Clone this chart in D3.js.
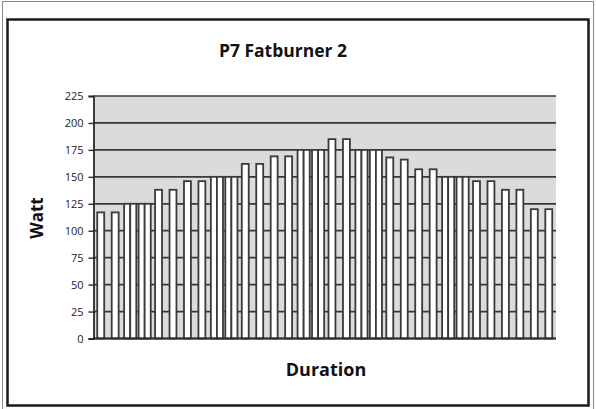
<!DOCTYPE html>
<html>
<head>
<meta charset="utf-8">
<script src="https://cdn.jsdelivr.net/npm/d3@7"></script>
<style>
  html, body { margin: 0; padding: 0; background: #fff; }
  svg { display: block; font-family: "Open Sans", "DejaVu Sans", sans-serif; }
</style>
</head>
<body>
<svg id="chart" width="596" height="409"></svg>
<script>
/* ── Data ─────────────────────────────────────────────────────────── */
// one value per interval
const watts = [117, 117, 125, 125, 138, 138, 146, 146, 150, 150, 162, 162,
               169, 169, 175, 175, 185, 185, 175, 175, 168, 166, 157, 157,
               150, 150, 146, 146, 138, 138, 120, 120];
// intervals where the load is held (drawn as a solid block)
const holds = [2, 3, 8, 9, 14, 15, 18, 19, 24, 25];
const yTicks = [0, 25, 50, 75, 100, 125, 150, 175, 200, 225];
const title = 'P7 Fatburner 2';
const xTitle = 'Duration';
const yTitle = 'Watt';

/* ── Layout ───────────────────────────────────────────────────────── */
const plot = { left: 93.5, right: 556, top: 96, bottom: 338.5 };

const svg = d3.select('#chart');

// outer frame + inner box
svg.append('rect')
  .attr('x', 2.5).attr('y', 1.5).attr('width', 591).attr('height', 410)
  .attr('fill', 'none').attr('stroke', '#8a8a8a').attr('stroke-width', 1);
svg.append('rect')
  .attr('x', 7.5).attr('y', 19.5).attr('width', 581).attr('height', 386)
  .attr('fill', '#fff').attr('stroke', '#1a1a1a').attr('stroke-width', 2.5);

const x = d3.scaleBand()
  .domain(d3.range(watts.length))
  .range([plot.left, plot.right])
  .paddingInner(0)
  .paddingOuter(0);

const y = d3.scaleLinear()
  .domain([0, 225])
  .range([plot.bottom, plot.top]);

const bw = x.bandwidth();

// plot background
svg.append('rect')
  .attr('x', plot.left).attr('y', plot.top)
  .attr('width', plot.right - plot.left).attr('height', plot.bottom - plot.top)
  .attr('fill', '#dbdbdb');

// gridlines
svg.append('g')
  .selectAll('line').data(yTicks).join('line')
  .attr('x1', plot.left).attr('x2', plot.right)
  .attr('y1', d => y(d)).attr('y2', d => y(d))
  .attr('stroke', '#383838').attr('stroke-width', 1.7);

/* ── Bars ─────────────────────────────────────────────────────────── */
const isHold = i => holds.includes(i);
const bars = svg.append('g');
const barStroke = '#3a3a3a';

// ramp intervals: a single bar in the middle of the band
bars.selectAll('rect.ramp')
  .data(watts.map((v, i) => ({ v, i })).filter(d => !isHold(d.i)))
  .join('rect')
  .attr('class', 'ramp')
  .attr('x', d => x(d.i) + bw * 0.26)
  .attr('width', bw * 0.48)
  .attr('y', d => y(d.v))
  .attr('height', d => y(0) - y(d.v))
  .attr('fill', '#fff')
  .attr('stroke', barStroke).attr('stroke-width', 1.8);

// hold intervals: two narrow cells filling the band
const holdCells = [];
watts.forEach((v, i) => {
  if (!isHold(i)) return;
  holdCells.push({ v, i, part: 0 }, { v, i, part: 1 });
});
bars.selectAll('rect.hold')
  .data(holdCells)
  .join('rect')
  .attr('class', 'hold')
  .attr('x', d => x(d.i) + bw * 0.12 + d.part * bw * 0.42)
  .attr('width', bw * 0.42)
  .attr('y', d => y(d.v))
  .attr('height', d => y(0) - y(d.v))
  .attr('fill', '#fff')
  .attr('stroke', barStroke).attr('stroke-width', 1.8);

/* ── Axes ─────────────────────────────────────────────────────────── */
const yAxis = svg.append('g')
  .attr('transform', `translate(${plot.left},0)`)
  .call(d3.axisLeft(y).tickValues(yTicks).tickSize(5).tickPadding(5));
yAxis.select('.domain').attr('stroke', '#2a2a2a').attr('stroke-width', 1.8);
yAxis.selectAll('.tick line').attr('stroke', '#2a2a2a').attr('stroke-width', 1.4);
yAxis.selectAll('.tick text')
  .attr('font-size', 11).attr('fill', '#222')
  .attr('font-family', '"Open Sans", sans-serif');

svg.append('line')
  .attr('x1', plot.left).attr('x2', plot.right)
  .attr('y1', y(0)).attr('y2', y(0))
  .attr('stroke', '#2a2a2a').attr('stroke-width', 1.8);

/* ── Titles ───────────────────────────────────────────────────────── */
svg.append('text')
  .attr('x', 283).attr('y', 57)
  .attr('text-anchor', 'middle')
  .attr('font-size', 17.5).attr('font-weight', 'bold').attr('fill', '#111')
  .text(title);

svg.append('text')
  .attr('x', 326).attr('y', 376)
  .attr('text-anchor', 'middle')
  .attr('font-size', 18).attr('font-weight', 'bold').attr('fill', '#111')
  .text(xTitle);

svg.append('text')
  .attr('transform', 'translate(43,218) rotate(-90)')
  .attr('text-anchor', 'middle')
  .attr('font-size', 17).attr('font-weight', 'bold').attr('fill', '#111')
  .text(yTitle);
</script>
</body>
</html>
